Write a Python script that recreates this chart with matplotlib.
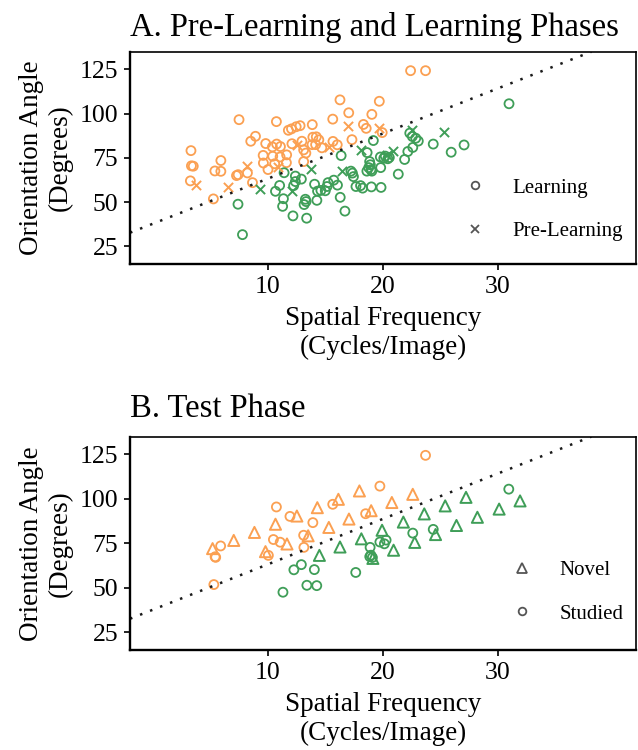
import matplotlib
matplotlib.use("Agg")
import matplotlib.pyplot as plt
from matplotlib.lines import Line2D
import numpy as np

plt.rcParams['font.family'] = ['Liberation Serif', 'DejaVu Serif']

orange = '#FBA052'
green = '#3F9E58'
legend_grey = '#555555'

# boundary line (same in both panels)
bound_intercept = 37.8
bound_slope = 2.55

# ---- panel A: pre-learning and learning ----
a_learn_orange_x = [3.34, 3.5, 3.3, 3.25, 5.25, 5.9, 5.38, 5.9, 7.26, 7.4, 7.48, 8.21, 8.5, 8.91,
                    8.65, 9.8, 9.58, 10.41, 11.05, 11.62, 9.6, 10.0, 10.58, 11.6, 10.38, 10.75,
                    11.08, 10.73, 11.77, 12.04, 12.45, 12.79, 13.85, 12.08, 12.95, 13.1, 13.29,
                    13.1, 13.9, 14.2, 14.42, 13.83, 14.14, 14.68, 15.65, 16.02, 15.63, 16.26,
                    17.02, 17.3, 18.3, 18.54, 19.03, 19.68, 19.93, 22.4, 23.7]
a_learn_orange_y = [70.5, 70.3, 79.1, 62.0, 51.8, 73.5, 67.6, 67.4, 65.0, 65.5, 96.6, 66.5, 84.4, 87.2,
                    61.0, 83.1, 76.4, 75.9, 75.5, 76.7, 72.1, 68.4, 71.7, 72.3, 81.2, 82.8,
                    81.4, 95.5, 90.6, 91.4, 92.6, 93.2, 93.8, 83.0, 84.4, 79.5, 77.7,
                    72.9, 86.7, 86.9, 85.2, 82.5, 82.5, 80.7, 84.3, 82.4, 96.9, 107.8,
                    100.5, 85.3, 93.9, 91.7, 99.6, 107.0, 89.3, 124.3, 124.3]

a_pre_orange_x = [3.78, 6.5, 8.15, 10.86, 12.55, 15.32, 16.93, 19.68]
a_pre_orange_y = [59.5, 58.5, 70.5, 69.7, 82.2, 80.9, 93.2, 92.0]

a_learn_green_x = [7.39, 7.78, 11.4, 12.38, 12.9, 12.38, 12.23, 11.01, 10.65, 11.34, 11.27, 12.17,
                   13.36, 13.25, 13.31, 13.14, 14.05, 14.31, 14.6, 14.25, 15.13, 15.22, 15.72,
                   16.04, 14.98, 16.28, 16.69, 16.36, 17.21, 17.34, 17.43, 17.65, 18.05, 18.23,
                   18.99, 19.83, 18.84, 18.9, 18.76, 18.95, 18.6, 19.03, 19.8, 18.62, 19.16,
                   19.77, 20.07, 20.2, 20.42, 20.55, 21.33, 21.88, 22.16, 22.59, 22.33, 22.55,
                   22.85, 23.07, 24.37, 25.93, 27.05, 30.96]
a_learn_green_y = [48.8, 31.6, 66.6, 64.7, 63.0, 61.6, 59.3, 59.4, 56.1, 51.9, 47.6, 42.2,
                   40.9, 51.6, 50.3, 48.6, 60.1, 56.2, 56.6, 51.0, 58.8, 61.0, 62.4,
                   59.6, 56.4, 52.7, 44.9, 76.3, 67.5, 66.4, 64.4, 58.8, 59.3, 57.9,
                   58.6, 58.3, 72.9, 71.1, 69.5, 68.3, 67.5, 67.5, 69.5, 78.0, 84.8,
                   75.5, 74.8, 76.0, 74.5, 75.2, 65.8, 74.1, 78.6, 80.9, 89.0, 87.1,
                   86.1, 84.5, 82.8, 78.2, 82.3, 105.6]

a_pre_green_x = [9.32, 12.1, 13.7, 16.46, 18.08, 20.32, 20.9, 22.48, 25.27]
a_pre_green_y = [57.4, 56.3, 68.5, 67.5, 79.5, 76.5, 78.9, 90.6, 89.8]

# ---- panel B: test phase ----
b_novel_orange_x = [5.18, 7.02, 8.82, 10.65, 12.51, 14.29, 16.12, 17.95, 9.78, 11.65, 13.49,
                    15.29, 17.04, 18.97, 20.77, 22.59]
b_novel_orange_y = [72.1, 76.7, 81.2, 85.8, 90.4, 95.1, 99.8, 104.5, 70.4, 74.7, 79.3,
                    84.0, 88.7, 93.4, 98.0, 102.6]

b_studied_orange_x = [5.88, 5.4, 5.45, 5.29, 10.73, 11.91, 10.47, 11.06, 13.1, 13.9, 13.12,
                      10.03, 15.63, 18.49, 19.73, 23.7]
b_studied_orange_y = [73.6, 67.5, 67.2, 51.9, 95.5, 90.2, 77.2, 75.7, 79.6, 86.7, 72.8,
                      68.3, 97.0, 91.7, 107.2, 124.5]

b_novel_green_x = [14.47, 16.26, 18.12, 19.12, 19.92, 20.92, 21.77, 22.76, 23.59, 24.57, 25.41,
                   26.39, 27.22, 28.21, 30.1, 31.92]
b_novel_green_y = [68.3, 73.0, 77.6, 66.6, 82.4, 71.2, 87.0, 75.6, 91.6, 80.0, 96.1,
                   85.1, 100.9, 89.7, 94.3, 98.9]

b_studied_green_x = [12.9, 12.25, 14.03, 13.38, 14.24, 11.3, 17.63, 18.88, 18.95, 19.08, 18.85,
                     19.73, 20.12, 20.27, 22.59, 24.37, 30.94]
b_studied_green_y = [63.1, 60.2, 60.3, 51.5, 51.3, 47.6, 58.7, 72.8, 68.4, 67.1, 67.6,
                     75.8, 74.8, 76.9, 80.8, 82.9, 105.5]

x_ticks = [10, 20, 30]
y_ticks = [25, 50, 75, 100, 125]

fig = plt.figure(figsize=(6.38, 7.5), dpi=100)
axA = fig.add_axes([0.2038, 0.648, 0.793, 0.283])
axB = fig.add_axes([0.2038, 0.133, 0.793, 0.2848])

circ = dict(marker='o', s=42, facecolors='none', linewidths=1.3)
tri = dict(marker='^', s=64, facecolors='none', linewidths=1.4)
cross = dict(marker='x', s=44, linewidths=1.4)


def style_axes(ax, title, title_pad):
    ax.set_xlim(-2, 42)
    ax.set_ylim(15, 135)
    ax.set_xticks(x_ticks)
    ax.set_yticks(y_ticks)
    ax.tick_params(labelsize=18.5, length=4.5, width=1.4, color='#222222', pad=4)
    for side in ['top', 'right']:
        ax.spines[side].set_linewidth(1.2)
    for side in ['left', 'bottom']:
        ax.spines[side].set_linewidth(1.7)
    ax.set_xlabel("Spatial Frequency\n(Cycles/Image)", fontsize=19.5, labelpad=6)
    ax.set_ylabel("Orientation Angle\n(Degrees)", fontsize=19.5, labelpad=5)
    ax.set_title(title, loc='left', fontsize=23.5, pad=title_pad)
    ax.axline((0, bound_intercept), slope=bound_slope, color='#1a1a1a',
              linestyle=(0, (1, 3.3)), linewidth=1.8)


# panel A
axA.scatter(a_learn_orange_x, a_learn_orange_y, edgecolors=orange, **circ)
axA.scatter(a_learn_green_x, a_learn_green_y, edgecolors=green, **circ)
axA.scatter(a_pre_orange_x, a_pre_orange_y, color=orange, **cross)
axA.scatter(a_pre_green_x, a_pre_green_y, color=green, **cross)
style_axes(axA, "A. Pre-Learning and Learning Phases", 11)

handlesA = [Line2D([], [], linestyle='none', marker='o', markersize=5.5, markerfacecolor='none',
                   markeredgecolor=legend_grey, markeredgewidth=1.3),
            Line2D([], [], linestyle='none', marker='x', markersize=5.5, color=legend_grey,
                   markeredgewidth=1.3)]
axA.legend(handlesA, ["Learning", "Pre-Learning"], loc='lower right', frameon=False,
           fontsize=15, handlelength=2, handletextpad=0.8, labelspacing=1.15,
           borderpad=0, borderaxespad=0, bbox_to_anchor=(0.975, 0.108))

# panel B
axB.scatter(b_studied_orange_x, b_studied_orange_y, edgecolors=orange, **circ)
axB.scatter(b_studied_green_x, b_studied_green_y, edgecolors=green, **circ)
axB.scatter(b_novel_orange_x, b_novel_orange_y, edgecolors=orange, **tri)
axB.scatter(b_novel_green_x, b_novel_green_y, edgecolors=green, **tri)
style_axes(axB, "B. Test Phase", 14)

handlesB = [Line2D([], [], linestyle='none', marker='^', markersize=7, markerfacecolor='none',
                   markeredgecolor=legend_grey, markeredgewidth=1.3),
            Line2D([], [], linestyle='none', marker='o', markersize=5.5, markerfacecolor='none',
                   markeredgecolor=legend_grey, markeredgewidth=1.3)]
axB.legend(handlesB, ["Novel", "Studied"], loc='lower right', frameon=False,
           fontsize=15, handlelength=2, handletextpad=0.8, labelspacing=1.15,
           borderpad=0, borderaxespad=0, bbox_to_anchor=(0.975, 0.124))

fig.savefig("out.png", dpi=100)
